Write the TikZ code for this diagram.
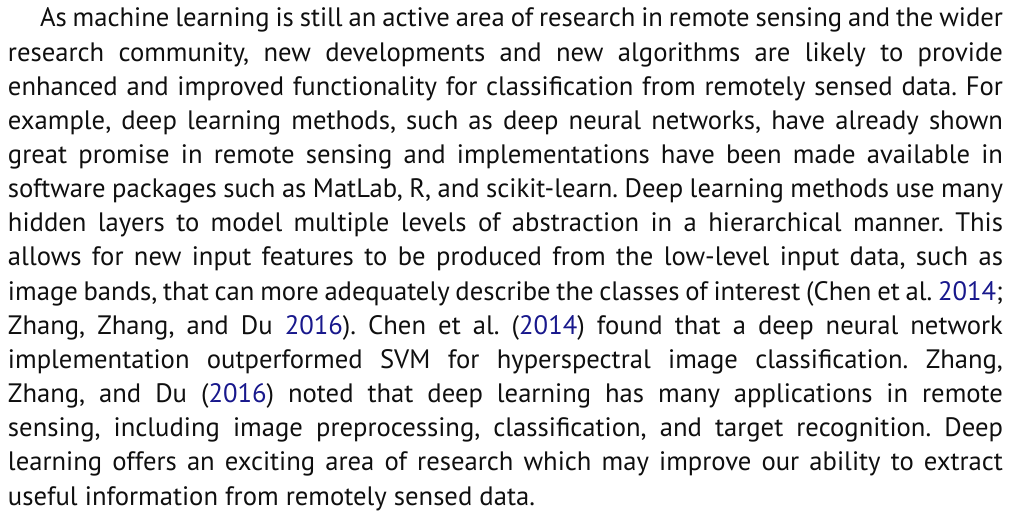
\documentclass[tikz,border=0pt]{standalone}
\usepackage{fontspec}
\setmainfont{PT Sans}
\definecolor{citeblue}{RGB}{24,24,140}
\definecolor{bodytext}{RGB}{15,15,15}
\newlength\natw
\newcommand\yr[1]{\textcolor{citeblue}{#1}}
\newcommand\jline[2]{\hbox to #1{\spaceskip=\fontdimen2\font plus 3\fontdimen2\font minus .35\fontdimen2\font\relax #2}}
\newcommand\nline[1]{\hbox{\spaceskip=\fontdimen2\font plus 3\fontdimen2\font minus .35\fontdimen2\font\relax #1}}
\tikzset{txtline/.style={anchor=base west, inner sep=0pt, outer sep=0pt, text=bodytext}}
\begin{document}
\settowidth\natw{\fontsize{10}{12}\selectfont\frenchspacing\spaceskip=\fontdimen2\font plus 3\fontdimen2\font minus .35\fontdimen2\font\relax useful information from remotely sensed data.}%
\pgfmathsetmacro\fsz{10*527/\natw}%
\newcommand\bodyfont{\fontsize{\fsz}{34}\selectfont\frenchspacing}%
\begin{tikzpicture}[x=1pt,y=1pt]
\useasboundingbox (0,0) rectangle (1012,-518);
\node[txtline] (l1) at (40,-27) {\bodyfont\jline{963pt}{As machine learning is still an active area of research in remote sensing and the wider}};
\node[txtline] (l2) at (8,-61.1) {\bodyfont\jline{995pt}{research community, new developments and new algorithms are likely to provide}};
\node[txtline] (l3) at (8,-95.3) {\bodyfont\jline{995pt}{enhanced and improved functionality for classification from remotely sensed data. For}};
\node[txtline] (l4) at (8,-129.4) {\bodyfont\jline{995pt}{example, deep learning methods, such as deep neural networks, have already shown}};
\node[txtline] (l5) at (8,-163.6) {\bodyfont\jline{995pt}{great promise in remote sensing and implementations have been made available in}};
\node[txtline] (l6) at (8,-197.7) {\bodyfont\jline{995pt}{software packages such as MatLab, R, and scikit-learn. Deep learning methods use many}};
\node[txtline] (l7) at (8,-231.8) {\bodyfont\jline{995pt}{hidden layers to model multiple levels of abstraction in a hierarchical manner. This}};
\node[txtline] (l8) at (8,-266) {\bodyfont\jline{995pt}{allows for new input features to be produced from the low-level input data, such as}};
\node[txtline] (l9) at (8,-300.1) {\bodyfont\jline{995pt}{image bands, that can more adequately describe the classes of interest (Chen et al. \yr{2014};}};
\node[txtline] (l10) at (8,-334.3) {\bodyfont\jline{995pt}{Zhang, Zhang, and Du \yr{2016}). Chen et al. (\yr{2014}) found that a deep neural network}};
\node[txtline] (l11) at (8,-368.4) {\bodyfont\jline{995pt}{implementation outperformed SVM for hyperspectral image classification. Zhang,}};
\node[txtline] (l12) at (8,-402.5) {\bodyfont\jline{995pt}{Zhang, and Du (\yr{2016}) noted that deep learning has many applications in remote}};
\node[txtline] (l13) at (8,-436.7) {\bodyfont\jline{995pt}{sensing, including image preprocessing, classification, and target recognition. Deep}};
\node[txtline] (l14) at (8,-470.8) {\bodyfont\jline{995pt}{learning offers an exciting area of research which may improve our ability to extract}};
\node[txtline] (l15) at (8,-505) {\bodyfont\nline{useful information from remotely sensed data.}};
\end{tikzpicture}
\end{document}
